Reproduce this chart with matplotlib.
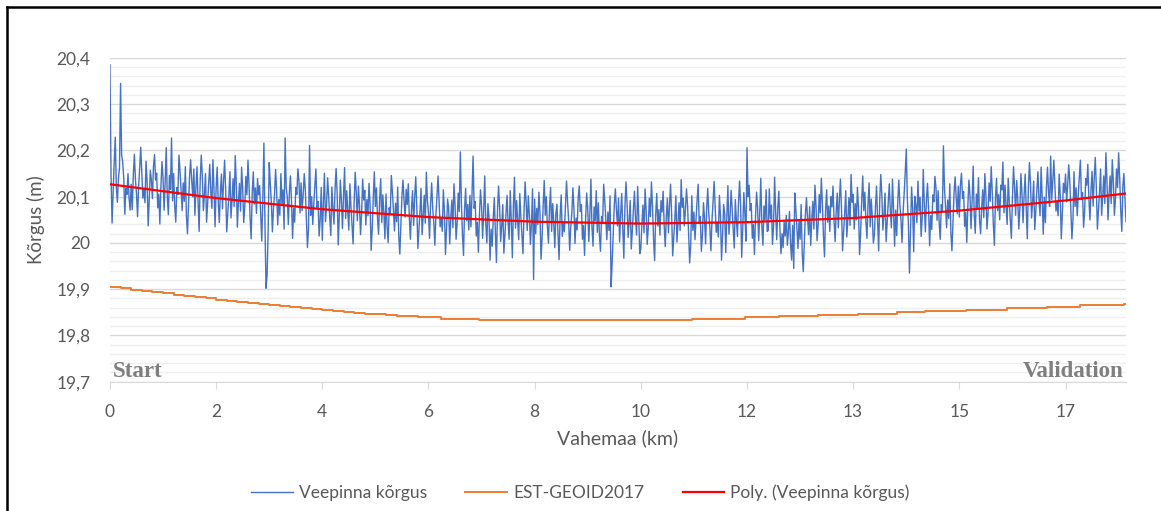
import numpy as np
import matplotlib.pyplot as plt
from matplotlib.lines import Line2D
from matplotlib.ticker import FuncFormatter

plt.rcParams['font.family'] = ['Lato', 'DejaVu Sans']

# Water surface height along the route, mm above 20 m (one sample per step)
heights_mm = [
    385, 150, 43, 110, 175, 229, 120, 88, 140, 162, 345, 190, 176, 140, 62, 118, 105, 150, 97, 71,
    127, 72, 147, 192, 137, 107, 57, 122, 162, 207, 152, 97, 117, 87, 177, 132, 37, 92, 157, 137,
    96, 166, 191, 136, 151, 76, 106, 41, 121, 176, 141, 71, 131, 206, 101, 61, 146, 116, 227, 91,
    150, 80, 45, 120, 105, 190, 155, 115, 70, 130, 90, 165, 60, 20, 85, 145, 180, 135, 100, 160,
    60, 120, 165, 90, 25, 135, 190, 145, 70, 105, 150, 45, 85, 130, 170, 110, 75, 180, 115, 35,
    119, 164, 89, 44, 109, 149, 74, 134, 179, 114, 24, 64, 104, 154, 54, 94, 139, 79, 189, 129,
    34, 89, 129, 69, 164, 119, 44, 79, 144, 104, 179, 124, 54, 9, 109, 154, 84, 119, 64, 139,
    104, 124, 59, 4, 99, 216, 40, -98, -70, 26, 174, 129, 89, 24, 74, 104, 159, 114, 39, 94,
    60, 150, 85, 115, 30, 227, 120, 100, 40, 110, 145, 90, 10, 75, 45, 120, 105, 160, 135, 65,
    130, 70, 105, 150, 115, 55, -10, 30, 211, 60, 100, 40, 85, 125, 160, 75, 90, 15, 50, 120,
    6, 86, 151, 46, 81, 141, 101, 56, 16, 121, 76, 41, 116, 161, 106, -4, 61, 136, 91, 31,
    103, 163, 53, 113, 68, 28, 128, 78, 38, -2, 88, 153, 108, 48, 123, 83, 18, 63, 138, 93,
    114, 39, 94, 59, 129, 84, -16, 29, 99, 154, 79, 119, 54, 19, 94, 139, 44, 104, 64, 9,
    106, 36, 1, 76, 61, 146, 111, 71, 26, 86, 46, 121, 16, -24, 41, 101, 136, 91, 56, 116,
    83, 128, 53, 8, 73, 113, 38, 98, 143, 78, -12, 28, 68, 118, 18, 58, 103, 43, 153, 93,
    65, 10, 85, 130, 75, 45, -5, 60, 100, 145, 90, 35, 55, 25, 115, 70, -25, 30, 95, 75,
    -2, 53, 93, 33, 128, 83, 8, 43, 108, 68, 197, 88, 18, -27, 73, 118, 48, 83, 28, 103,
    35, 105, 188, 75, 90, 15, 45, -20, 60, 115, 80, 10, 70, 145, 40, 0, 85, 55, -37, 30,
    -7, 53, 98, 23, -42, 68, 123, 78, 3, 38, 83, -22, 18, 63, 103, 43, 8, 113, 48, -32,
    82, 142, 32, 92, 47, 7, 107, 57, 17, -23, 67, 132, 87, 27, 102, 62, -3, 42, 117, -79,
    95, 20, 75, 40, 110, 65, -35, 10, 80, 135, 60, 100, 35, 0, 75, 120, 25, 85, 45, -10,
    64, 84, 19, -36, 59, 104, 14, 44, 24, 79, 134, 89, 49, -16, 34, 64, 119, 74, -1, 54,
    28, 98, 123, 68, 83, 8, 38, -27, 53, 108, 73, 3, 63, 138, 33, -7, 78, 48, 113, 23,
    87, 17, -18, 57, 42, 127, 92, 52, 7, 67, 27, 102, -95, -43, 22, 82, 117, 72, 37, 97,
    2, 62, 107, 32, -33, 77, 132, 87, 12, 47, 92, -13, 27, 72, 112, 52, 17, 122, 57, -23,
    -13, 42, 82, 22, 117, 72, -3, 32, 97, 57, 132, 77, 7, -38, 62, 107, 37, 72, 17, 92,
    67, 112, 37, -8, 57, 97, 22, 82, 127, 62, -28, 12, 52, 102, 2, 42, 87, 27, 137, 77,
    97, 37, 72, 117, 82, 22, -43, -3, 102, 27, 67, 7, 52, 92, 127, 42, 57, -18, 17, 87,
    53, -2, 73, 118, 63, 33, -17, 48, 88, 133, 78, 23, 43, 13, 103, 58, -37, 18, 83, 63,
    -21, 59, 124, 19, 54, 114, 74, 29, -11, 94, 49, 14, 89, 134, 79, -31, 34, 109, 64, 4,
    206, 100, 125, 70, 85, 10, 40, -25, 55, 110, 75, 5, 65, 140, 35, -5, 80, 50, 115, 25,
    27, 117, 52, 82, -3, 37, 142, 67, 7, 77, 112, 30, -23, 20, -10, 45, 15, 60, -5, 25,
    68, -2, -37, 38, -55, 108, 73, 33, -12, 48, 8, 83, -22, -62, 3, 63, 98, 53, 18, 78,
    -5, 50, 90, 30, 125, 80, 5, 40, 105, 65, 140, 85, 15, -30, 70, 115, 45, 80, 25, 100,
    78, 123, 48, 3, 68, 108, 33, 93, 138, 73, -17, 23, 63, 113, 13, 53, 98, 38, 148, 88,
    105, 30, 85, 50, 120, 75, -25, 20, 90, 145, 70, 110, 45, 10, 85, 130, 35, 95, 55, 0,
    18, 78, 123, 48, -17, 93, 148, 103, 28, 63, 108, 3, 43, 88, 128, 68, 33, 138, 73, -7,
    71, 16, 91, 136, 81, 51, 1, 66, 106, 151, 203, 96, 41, -65, 31, 121, 76, -19, 101, 81,
    44, 134, 69, 99, 14, 54, 159, 84, 24, 94, 129, 74, -6, 59, 29, 104, 89, 144, 119, 49,
    113, 43, 8, 83, 68, 210, 118, 78, 33, 93, 53, 128, 23, -17, 48, 108, 143, 98, 63, 123,
    56, 126, 151, 96, 111, 36, 66, 1, 81, 136, 101, 31, 91, 166, 61, 21, 106, 76, 141, 51,
    20, 75, 115, 55, 150, 105, 30, 65, 130, 90, 165, 110, 40, -5, 95, 140, 70, 105, 50, 125,
    115, 175, 65, 125, 80, 40, 140, 90, 50, 10, 100, 165, 120, 60, 135, 95, 30, 75, 150, 105,
    44, 104, 149, 74, 9, 119, 174, 129, 54, 89, 134, 29, 69, 114, 154, 94, 59, 164, 99, 19,
    99, 44, 119, 164, 109, 79, 188, 94, 134, 179, 124, 69, 89, 59, 149, 104, 9, 64, 129, 109,
    149, 89, 124, 169, 134, 74, 9, 49, 154, 79, 119, 59, 104, 144, 179, 94, 109, 34, 69, 139,
    125, 170, 95, 50, 115, 155, 80, 140, 185, 120, 30, 70, 110, 160, 60, 100, 145, 85, 195, 135,
    50, 105, 145, 85, 180, 135, 60, 95, 160, 120, 195, 140, 70, 25, 125, 150, 92, 46,
]
heights = 20 + np.array(heights_mm) / 1000

# EST-GEOID2017 along the route: sample index where a new level starts, level (m)
geoid_idx = [0, 10, 20, 30, 40, 50, 60, 70, 80, 90, 100, 110, 120, 130, 140, 150,
             160, 170, 180, 190, 200, 210, 220, 230, 240, 250, 260, 270, 290, 312,
             348, 548, 598, 630, 667, 705, 741, 768, 806, 845, 883, 914, 955, 957]
geoid_val = [19.905, 19.902, 19.899, 19.897, 19.894, 19.891, 19.888, 19.886, 19.883,
             19.880, 19.877, 19.875, 19.872, 19.870, 19.868, 19.865, 19.863, 19.861,
             19.859, 19.857, 19.855, 19.853, 19.851, 19.849, 19.847, 19.846, 19.844,
             19.843, 19.840, 19.836, 19.833, 19.836, 19.840, 19.843, 19.845, 19.847,
             19.850, 19.853, 19.856, 19.859, 19.862, 19.865, 19.867, 19.867]

# polynomial trend of the water surface
trend_idx = [0, 100, 200, 300, 400, 500, 600, 700, 800, 900, 957]
trend_val = [20.127, 20.097, 20.073, 20.056, 20.046, 20.042, 20.045, 20.054,
             20.070, 20.092, 20.107]

tick_idx = [0, 100, 200, 300, 400, 500, 600, 700, 800, 900]
tick_km = ['0', '2', '4', '6', '8', '10', '12', '13', '15', '17']

fig = plt.figure(figsize=(11.61, 5.11), dpi=100)
ax = fig.add_axes([0.0947, 0.2530, 0.8752, 0.6335])

x = np.arange(len(heights))
ax.plot(x, heights, color='#4472C4', lw=1.0, label='Veepinna kõrgus', zorder=3)
ax.plot(geoid_idx, geoid_val, color='#ED7D31', lw=1.4, drawstyle='steps-post',
        label='EST-GEOID2017', zorder=3)
ax.plot(trend_idx, trend_val, color='#FF0000', lw=1.6,
        label='Poly. (Veepinna kõrgus)', zorder=4)

ax.set_xlim(0, len(heights) - 1)
ax.set_ylim(19.7, 20.4)
ax.set_yticks(np.round(np.arange(19.7, 20.401, 0.1), 2))
ax.set_yticks(np.round(np.arange(19.7, 20.401, 0.02), 2), minor=True)
ax.yaxis.set_major_formatter(FuncFormatter(
    lambda v, p: f'{v:.1f}'.replace('.0', '').replace('.', ',')))
ax.grid(which='major', axis='y', color='#D9D9D9', lw=1.0, zorder=0)
ax.grid(which='minor', axis='y', color='#EFEFEF', lw=1.0, zorder=0)
ax.set_xticks(tick_idx)
ax.set_xticklabels(tick_km)

for s in ['top', 'right', 'left']:
    ax.spines[s].set_visible(False)
ax.spines['bottom'].set_color('#D9D9D9')
ax.tick_params(axis='y', which='both', length=0, labelsize=12.5,
               labelcolor='#595959', pad=14)
ax.tick_params(axis='x', length=5, color='#D9D9D9', labelsize=12.5,
               labelcolor='#595959', pad=11)

ax.set_xlabel('Vahemaa (km)', fontsize=14, color='#595959', labelpad=7)
ax.set_ylabel('Kõrgus (m)', fontsize=13.5, color='#595959', labelpad=8)

ax.text(0.003, 0.016, 'Start', transform=ax.transAxes, family='Liberation Serif',
        fontweight='bold', fontsize=16.5, color='#7F7F7F', ha='left', va='baseline')
ax.text(0.997, 0.016, 'Validation', transform=ax.transAxes, family='Liberation Serif',
        fontweight='bold', fontsize=16.5, color='#7F7F7F', ha='right', va='baseline')

leg = fig.legend(loc='center', bbox_to_anchor=(0.5, 0.035), ncol=3, frameon=False,
                 fontsize=12.5, handlelength=2.4, columnspacing=2.2, handletextpad=0.35)
for t in leg.get_texts():
    t.set_color('#595959')

# outer frame (left and top edges)
fig.add_artist(Line2D([7 / 1161, 7 / 1161], [0, 1 - 7 / 511], color='black', lw=1.8))
fig.add_artist(Line2D([7 / 1161, 1], [1 - 7 / 511, 1 - 7 / 511], color='black', lw=1.8))

fig.savefig('out.png', dpi=100)
